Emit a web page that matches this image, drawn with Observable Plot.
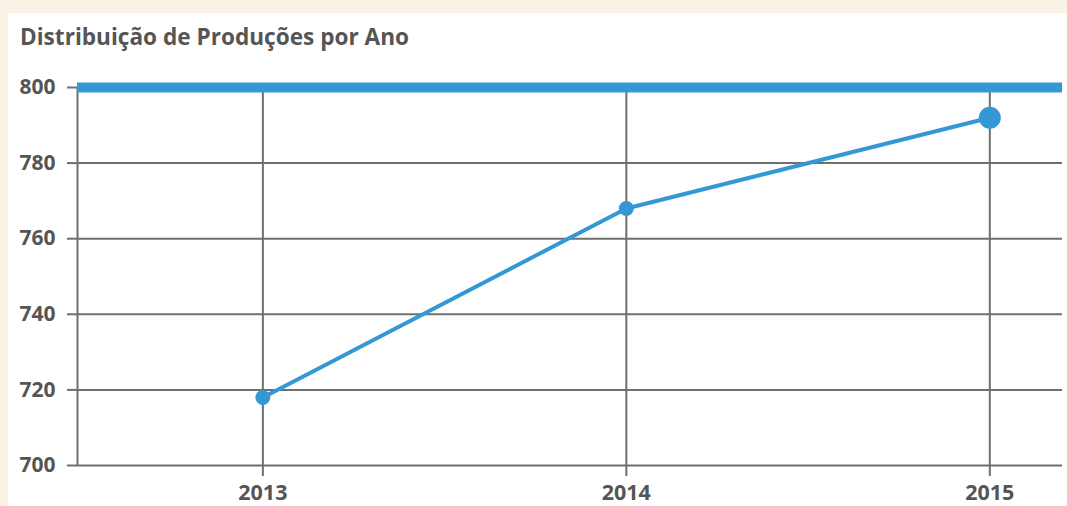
<!DOCTYPE html>
<html><head><meta charset="utf-8">
<script src="https://cdn.jsdelivr.net/npm/d3@7"></script>
<script src="https://cdn.jsdelivr.net/npm/@observablehq/plot@0.6"></script>
<style>
html,body{margin:0;padding:0;background:#f8f1e4;width:1067px;height:506px;overflow:hidden;font-family:"Open Sans",sans-serif;}
#panel{position:absolute;left:8px;top:13px;width:1059px;height:493px;background:#fff;}
#title{position:absolute;left:12px;top:13px;margin:0;font-size:22.6px;font-weight:700;color:#555;line-height:22px;white-space:nowrap;}
#chart{position:absolute;left:0;top:47px;}
</style></head>
<body>
<div id="panel"><div id="title">Distribuição de Produções por Ano</div><div id="chart"></div></div>
<script>
const years = [2013, 2014, 2015];
const productions = [718, 768, 792];
const yTicks = [700, 720, 740, 760, 780, 800];
const data = years.map((year, i) => ({year, value: productions[i]}));
const xDomain = [2012.49, 2015.2];
const gray = "#6f6f6f";
const blue = "#3498d5";
const chart = Plot.plot({
  width: 1059, height: 446,
  marginLeft: 69, marginRight: 5, marginTop: 27, marginBottom: 41,
  x: {domain: xDomain},
  y: {domain: [700, 800]},
  style: {fontFamily: "Open Sans, sans-serif", fontWeight: 700, fontSize: "21px", color: "#555", background: "transparent", overflow: "visible"},
  marks: [
    Plot.ruleY(yTicks.filter(t => t > 700 && t < 800), {stroke: gray, strokeWidth: 2}),
    Plot.ruleX(years, {stroke: gray, strokeWidth: 2}),
    Plot.ruleX([xDomain[0]], {stroke: gray, strokeWidth: 2}),
    Plot.ruleY([700], {stroke: gray, strokeWidth: 2}),
    Plot.axisY({ticks: yTicks, tickFormat: d => String(d), tickSize: 10, tickPadding: 12, stroke: gray, strokeWidth: 2, label: null, fill: "#555", fontSize: 21, fontWeight: 700}),
    Plot.axisX({ticks: years, tickFormat: d => String(d), tickSize: 11, tickPadding: 8, stroke: gray, strokeWidth: 2, label: null, fill: "#555", fontSize: 21.5, fontWeight: 700}),
    Plot.ruleY([800], {stroke: blue, strokeWidth: 10}),
    Plot.line(data, {x: "year", y: "value", stroke: blue, strokeWidth: 4}),
    Plot.dot(data.slice(0, -1), {x: "year", y: "value", fill: blue, r: 7.5}),
    Plot.dot(data.slice(-1), {x: "year", y: "value", fill: blue, r: 11})
  ]
});
document.getElementById("chart").appendChild(chart);
</script>
</body></html>
